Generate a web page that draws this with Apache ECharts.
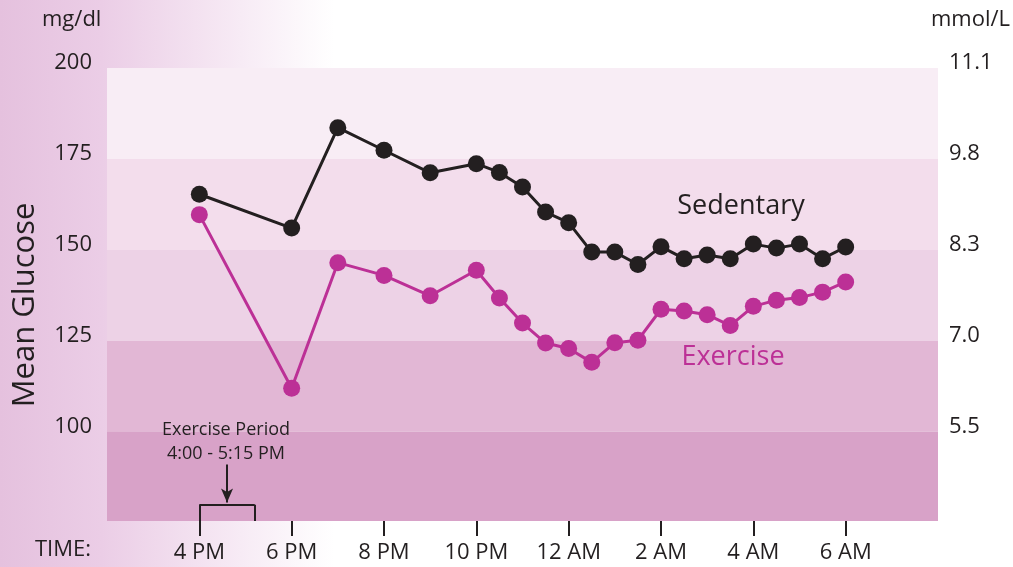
<!DOCTYPE html>
<html>
<head>
<meta charset="utf-8">
<script src="https://cdn.jsdelivr.net/npm/echarts@6/dist/echarts.min.js"></script>
<style>
html,body{margin:0;padding:0;background:#fff;}
#c{width:1013px;height:567px;}
</style>
</head>
<body>
<div id="c"></div>
<script>
// ---- data ----
var hours = [16, 18, 19, 20, 21, 22, 22.5, 23, 23.5, 24, 24.5, 25, 25.5, 26, 26.5, 27, 27.5, 28, 28.5, 29, 29.5, 30];
var sedentary = [165.3, 156.0, 183.6, 177.4, 171.2, 173.7, 171.3, 167.3, 160.4, 157.5, 149.4, 149.4, 146.0, 150.9, 147.6, 148.6, 147.6, 151.6, 150.5, 151.6, 147.6, 150.8];
var exercise = [159.7, 112.0, 146.5, 143.0, 137.4, 144.4, 136.8, 129.9, 124.4, 122.9, 119.1, 124.5, 125.2, 133.7, 133.2, 132.2, 129.2, 134.5, 136.2, 136.9, 138.4, 141.2];
var xTickValues = [16, 18, 20, 22, 24, 26, 28, 30];
var xTickLabels = ['4 PM', '6 PM', '8 PM', '10 PM', '12 AM', '2 AM', '4 AM', '6 AM'];
var yTickValues = [100, 125, 150, 175, 200];
var mgTickLabels = ['100', '125', '150', '175', '200'];
var mmolTickLabels = ['5.5', '7.0', '8.3', '9.8', '11.1'];
var bandEdges = [200, 175, 150, 125, 100];
var exerciseStart = 16, exerciseEnd = 17.2;
var yMin = 75.5, yMax = 200, xMin = 14, xMax = 32;

var bandColors = ['#f8edf5', '#f3ddec', '#edd2e6', '#e2b7d5', '#d8a2c8'];
var FONT = '"Open Sans", "Noto Sans", sans-serif';
var INK = '#231f20';
var MAG = '#bc3096';

function pairs(xs, ys) { return xs.map(function (x, i) { return [x, ys[i]]; }); }

var bands = bandEdges.map(function (top, i) {
  var bottom = i + 1 < bandEdges.length ? bandEdges[i + 1] : yMin;
  return [{ yAxis: top, itemStyle: { color: bandColors[i] } }, { yAxis: bottom }];
});

var chart = echarts.init(document.getElementById('c'), null, { renderer: 'canvas' });
var option = {
  backgroundColor: '#ffffff',
  animation: false,
  graphic: [
    { type: 'rect', z: -10, silent: true, shape: { x: 0, y: 0, width: 1013, height: 567 },
      style: { fill: new echarts.graphic.LinearGradient(0, 0, 1, 0, [
        { offset: 0, color: '#e5c1de' }, { offset: 0.1, color: '#ebcde6' }, { offset: 0.33, color: '#ffffff' }, { offset: 1, color: '#ffffff' }]) } },
    { type: 'text', z: 100, left: 42, top: 9, style: { text: 'mg/dl', font: '22px ' + FONT, fill: INK } },
    { type: 'text', z: 100, right: 3, top: 9, style: { text: 'mmol/L', font: '22px ' + FONT, fill: INK } },
    { type: 'text', z: 100, left: 35, top: 539, style: { text: 'TIME:', font: '22px ' + FONT, fill: INK } },
    { type: 'text', z: 100, x: 25, y: 305, rotation: Math.PI / 2, style: { text: 'Mean Glucose', font: '31px ' + FONT, fill: INK, align: 'center', verticalAlign: 'middle' } },
    { type: 'text', z: 100, x: 741, y: 206, style: { text: 'Sedentary', font: '27px ' + FONT, fill: INK, align: 'center', verticalAlign: 'middle' } },
    { type: 'text', z: 100, x: 733, y: 357, style: { text: 'Exercise', font: '27px ' + FONT, fill: MAG, align: 'center', verticalAlign: 'middle' } },
    { type: 'text', z: 100, x: 226, y: 442, style: { text: 'Exercise Period\n4:00 - 5:15 PM', font: '18px ' + FONT, fill: INK, align: 'center', verticalAlign: 'middle', lineHeight: 24 } }
  ],
  grid: { left: 107, right: 75, top: 68, bottom: 46, containLabel: false },
  xAxis: {
    type: 'value', min: xMin, max: xMax,
    axisLine: { show: false },
    splitLine: { show: false },
    axisTick: { show: true, customValues: xTickValues, length: 15, lineStyle: { color: INK, width: 2 } },
    axisLabel: { customValues: xTickValues, margin: 21, color: INK, fontSize: 22, fontFamily: FONT,
      formatter: function (v) { var i = xTickValues.indexOf(v); return i >= 0 ? xTickLabels[i] : ''; } }
  },
  yAxis: [
    { type: 'value', min: yMin, max: yMax, position: 'left',
      axisLine: { show: false }, axisTick: { show: false }, splitLine: { show: false },
      axisLabel: { customValues: yTickValues, margin: 15, color: INK, fontSize: 22, fontFamily: FONT,
        verticalAlign: 'bottom', lineHeight: 10,
        formatter: function (v) { var i = yTickValues.indexOf(v); return i >= 0 ? mgTickLabels[i] : ''; } } },
    { type: 'value', min: yMin, max: yMax, position: 'right',
      axisLine: { show: false }, axisTick: { show: false }, splitLine: { show: false },
      axisLabel: { customValues: yTickValues, margin: 11, color: INK, fontSize: 22, fontFamily: FONT,
        verticalAlign: 'bottom', lineHeight: 10,
        formatter: function (v) { var i = yTickValues.indexOf(v); return i >= 0 ? mmolTickLabels[i] : ''; } } }
  ],
  series: [
    { type: 'line', name: 'bands', data: [], z: 1, silent: true,
      markArea: { silent: true, data: bands } },
    { type: 'line', name: 'bracket', data: [], z: 4, silent: true,
      markLine: { silent: true, symbol: ['none', 'none'], label: { show: false },
        lineStyle: { color: INK, width: 2, type: 'solid' },
        emphasis: { disabled: true },
        data: [
          [{ coord: [exerciseStart, 80] }, { coord: [exerciseEnd, 80] }],
          [{ coord: [exerciseStart, 80] }, { coord: [exerciseStart, yMin] }],
          [{ coord: [exerciseEnd, 80] }, { coord: [exerciseEnd, yMin] }]
        ] } },
    { type: 'line', name: 'arrow', data: [], z: 4, silent: true,
      markLine: { silent: true, symbol: ['none', 'arrow'], symbolSize: [9, 14], label: { show: false },
        lineStyle: { color: INK, width: 2, type: 'solid' },
        emphasis: { disabled: true },
        data: [[{ coord: [(exerciseStart + exerciseEnd) / 2, 91] }, { coord: [(exerciseStart + exerciseEnd) / 2, 80.6] }]] } },
    { type: 'line', name: 'Exercise', data: pairs(hours, exercise), z: 5,
      symbol: 'circle', symbolSize: 17, showAllSymbol: true,
      lineStyle: { color: MAG, width: 3 }, itemStyle: { color: MAG } },
    { type: 'line', name: 'Sedentary', data: pairs(hours, sedentary), z: 6,
      symbol: 'circle', symbolSize: 17, showAllSymbol: true,
      lineStyle: { color: INK, width: 3 }, itemStyle: { color: INK } }
  ]
};
chart.setOption(option);
</script>
</body>
</html>
